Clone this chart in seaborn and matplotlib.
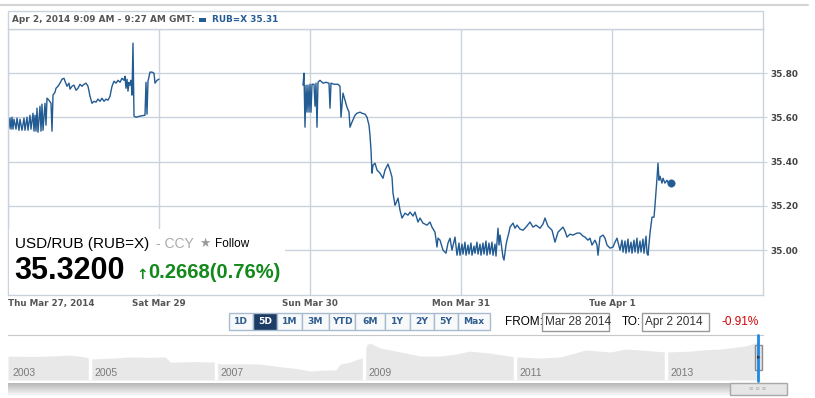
import numpy as np
import pandas as pd
import seaborn as sns
import matplotlib.pyplot as plt
from matplotlib.patches import Rectangle
from matplotlib.lines import Line2D

W, H = 815, 398

# intraday quotes, x = bar index (151 bars per session)
bar_a = [0, 1, 2, 3, 4, 5, 6, 8, 9, 11, 12, 14, 16, 17, 19, 20, 22, 23, 25, 26,
         27, 28, 29, 30, 32, 33, 34, 35, 37, 38, 39, 41, 43, 44, 45, 47, 48, 50, 52, 54,
         56, 57, 59, 61, 62, 64, 66, 68, 70, 72, 74, 76, 78, 80, 82, 84, 86, 88, 90, 92,
         94, 96, 98, 100, 102, 104, 106, 108, 110, 112, 114, 116, 117, 118, 119, 120, 121, 122, 123, 124,
         125, 126, 128, 132, 137, 138, 139, 140, 142, 144, 146, 147, 149, 151]
rate_a = [35.624, 35.551, 35.597, 35.547, 35.601, 35.547, 35.592, 35.547, 35.597, 35.542,
          35.592, 35.542, 35.597, 35.542, 35.601, 35.542, 35.610, 35.547, 35.619, 35.538,
          35.610, 35.538, 35.642, 35.533, 35.651, 35.538, 35.660, 35.542, 35.664, 35.565,
          35.687, 35.678, 35.664, 35.538, 35.701, 35.714, 35.732, 35.741, 35.755, 35.773,
          35.777, 35.764, 35.741, 35.755, 35.728, 35.741, 35.746, 35.723, 35.732, 35.750,
          35.741, 35.750, 35.755, 35.741, 35.696, 35.664, 35.673, 35.669, 35.683, 35.673,
          35.687, 35.673, 35.683, 35.678, 35.696, 35.741, 35.764, 35.755, 35.768, 35.759,
          35.777, 35.768, 35.786, 35.732, 35.773, 35.719, 35.759, 35.746, 35.768, 35.701,
          35.936, 35.606, 35.601, 35.606, 35.610, 35.759, 35.615, 35.764, 35.805, 35.805,
          35.800, 35.755, 35.768, 35.773]

bar_b = [295, 296, 297, 298, 299, 300, 301, 302, 303, 304, 306, 307, 308, 309, 310, 312, 315, 318, 321, 322,
         323, 326, 330, 332, 333, 335, 337, 339, 341, 342, 344, 347, 349, 352, 354, 357, 359, 361, 362, 363,
         364, 365, 367, 369, 372, 375, 377, 380, 382, 384, 385, 387, 388, 390, 392, 394, 397, 400, 402, 405,
         407, 410, 412, 415, 419, 422, 424, 427, 429, 430, 432, 435, 438, 440, 442, 444, 447, 449, 451, 452,
         454, 455, 457, 458, 460, 461, 463, 464, 466, 467, 469, 470, 472, 473, 475, 476, 478, 479, 481, 482,
         484, 485, 487, 488, 490, 491, 492, 494, 495, 496, 498, 499, 501, 502, 505, 507, 509, 512, 515, 518,
         522, 525, 528, 532, 535, 537, 540, 544, 547, 550, 553, 555, 557, 559, 562, 565, 569, 572, 575, 577,
         580, 582, 584, 587, 589, 590, 592, 595, 597, 599, 602, 605, 607, 609, 612, 614, 615, 617, 618, 620,
         621, 623, 624, 626, 627, 629, 630, 632, 633, 635, 636, 638, 639, 640, 642, 644, 646, 647, 649, 650,
         651, 652, 654, 655, 657, 659, 661, 663]
rate_b = [35.746, 35.800, 35.556, 35.746, 35.624, 35.746, 35.624, 35.750, 35.624, 35.750,
          35.750, 35.651, 35.755, 35.556, 35.759, 35.768, 35.755, 35.759, 35.755, 35.642,
          35.755, 35.750, 35.750, 35.741, 35.601, 35.710, 35.678, 35.646, 35.624, 35.556,
          35.579, 35.610, 35.619, 35.624, 35.619, 35.615, 35.601, 35.565, 35.520, 35.452,
          35.348, 35.384, 35.393, 35.362, 35.348, 35.325, 35.362, 35.389, 35.362, 35.330,
          35.258, 35.203, 35.212, 35.235, 35.181, 35.145, 35.167, 35.158, 35.172, 35.154,
          35.172, 35.127, 35.145, 35.122, 35.113, 35.127, 35.104, 35.081, 35.014, 35.054,
          35.045, 35.000, 34.986, 35.032, 35.054, 35.000, 35.059, 34.977, 35.032, 34.977,
          35.027, 34.982, 35.036, 34.977, 35.023, 34.982, 35.032, 34.977, 35.018, 34.986,
          35.036, 34.982, 35.027, 34.977, 35.032, 34.982, 35.041, 34.977, 35.032, 34.982,
          35.036, 34.977, 35.027, 34.973, 35.099, 35.023, 35.068, 35.000, 34.968, 34.955,
          35.023, 35.045, 35.081, 35.104, 35.122, 35.099, 35.113, 35.095, 35.090, 35.104,
          35.127, 35.104, 35.113, 35.099, 35.118, 35.145, 35.108, 35.090, 35.036, 35.081,
          35.095, 35.104, 35.086, 35.059, 35.072, 35.068, 35.077, 35.077, 35.063, 35.059,
          35.045, 35.054, 35.023, 35.045, 35.023, 34.977, 35.059, 35.068, 35.054, 35.023,
          35.009, 35.014, 35.036, 35.054, 35.000, 35.045, 34.991, 35.041, 34.986, 35.050,
          34.991, 35.036, 34.986, 35.045, 34.991, 35.054, 34.986, 35.041, 34.991, 35.050,
          34.986, 35.063, 34.986, 34.977, 35.077, 35.149, 35.149, 35.203, 35.325, 35.393,
          35.316, 35.334, 35.303, 35.325, 35.303, 35.316, 35.298, 35.303]

day_ticks = [0, 151, 302, 453, 604]
day_labels = ["Thu Mar 27, 2014", "Sat Mar 29", "Sun Mar 30", "Mon Mar 31", "Tue Apr 1"]
y_ticks = [35.0, 35.2, 35.4, 35.6, 35.8]

# long range navigator
nav_year = [2004.28, 2004.6, 2004.84, 2005.11, 2005.30, 2005.40, 2005.65, 2005.90, 2006.15, 2006.36,
            2006.43, 2006.75, 2007.03, 2007.10, 2007.35, 2007.62, 2007.9, 2008.15, 2008.28, 2008.45,
            2008.62, 2008.68, 2008.80, 2008.88, 2008.97, 2009.03, 2009.07, 2009.21, 2009.48, 2009.74,
            2010.01, 2010.2, 2010.40, 2010.67, 2011.00, 2011.33, 2011.60, 2011.93, 2012.26, 2012.45,
            2012.66, 2012.99, 2013.32, 2013.5, 2013.72, 2014.05, 2014.21]
nav_rate = [30.2, 30.0, 30.2, 30.6, 29.8, 28.9, 29.3, 29.8, 29.6, 29.8,
            27.5, 27.7, 27.5, 26.6, 26.8, 26.6, 25.4, 24.4, 23.5, 23.9,
            24.0, 26.6, 27.4, 28.4, 29.3, 35.1, 36.0, 33.8, 32.0, 30.2,
            30.2, 31.0, 32.4, 31.5, 29.8, 29.3, 29.8, 32.9, 32.0, 33.3,
            32.9, 32.0, 32.4, 33.0, 33.3, 34.7, 36.4]
nav_breaks = [2005.37, 2007.04, 2009.0, 2011.0, 2013.0]
nav_labels = ["2003", "2005", "2007", "2009", "2011", "2013"]

ranges = ["1D", "5D", "1M", "3M", "YTD", "6M", "1Y", "2Y", "5Y", "Max"]
range_edges = [229, 253, 277, 302, 329, 355, 385, 410, 434, 458, 490]

sns.set_style("white")
plt.rcParams['font.family'] = ['DejaVu Sans']

fig = plt.figure(figsize=(W / 100, H / 100), dpi=100)
fig.patch.set_facecolor("white")

grid_c = "#c8d3dd"
line_c = "#235b93"


def box(x0, y0, x1, y1, **kw):
    fig.add_artist(Rectangle((x0 / W, 1 - y1 / H), (x1 - x0) / W, (y1 - y0) / H,
                             transform=fig.transFigure, **kw))


def label(x, y, s, **kw):
    fig.text(x / W, 1 - y / H, s, va="center", **kw)


# main chart
ax = fig.add_axes([8 / W, 1 - 295 / H, 755 / W, 266 / H])
df = pd.DataFrame({
    "bar": bar_a + bar_b,
    "rate": rate_a + rate_b,
    "block": ["a"] * len(bar_a) + ["b"] * len(bar_b),
})
sns.lineplot(data=df, x="bar", y="rate", units="block", estimator=None,
             color=line_c, lw=1.0, ax=ax)
sns.scatterplot(x=[bar_b[-1]], y=[rate_b[-1]], color=line_c, s=28,
                edgecolor=line_c, ax=ax, zorder=5)
ax.set_xlim(0, 755)
ax.set_ylim(34.797, 36.0)
ax.grid(True, color=grid_c, lw=1)
ax.set_axisbelow(True)
ax.set_xlabel("")
ax.set_ylabel("")
ax.yaxis.tick_right()
ax.set_yticks(y_ticks, [f"{v:.2f}" for v in y_ticks])
ax.set_xticks(day_ticks, day_labels)
ax.tick_params(axis="y", length=3, color=grid_c, pad=2, labelsize=6.4, labelcolor="#444")
ax.tick_params(axis="x", length=0, pad=3, labelsize=6.3, labelcolor="#555")
for t in ax.get_yticklabels() + ax.get_xticklabels():
    t.set_fontweight("bold")
ax.get_xticklabels()[0].set_ha("left")
for s in ax.spines.values():
    s.set_color(grid_c)
    s.set_linewidth(1)

# header strip
fig.add_artist(Line2D([0, 808 / W], [1 - 5 / H, 1 - 5 / H], color="#d4d4d4", lw=1.5,
                      transform=fig.transFigure))
box(8, 11, 763, 29, fc="white", ec=grid_c, lw=1)
label(12, 20, "Apr 2, 2014 9:09 AM - 9:27 AM GMT:", fontsize=6.4, fontweight="bold", color="#555")
box(199, 18, 206, 22, fc=line_c, ec="none")
label(212, 20, "RUB=X 35.31", fontsize=6.4, fontweight="bold", color=line_c)

# quote overlay
box(9, 229, 285, 294, fc="white", ec="none", zorder=5)
label(15, 244, "USD/RUB (RUB=X)", fontsize=11, color="black",
      family="Liberation Sans", zorder=6)
label(156, 244, "- CCY", fontsize=10, color="#aaaaaa", family="Liberation Sans", zorder=6)
label(199, 243, "\u2605", fontsize=9, color="#999999", zorder=6)
label(215, 244, "Follow", fontsize=8.5, color="black", family="Liberation Sans", zorder=6)
label(14, 271, "35.3200", fontsize=22, fontweight="bold", color="black",
      family="Liberation Sans", zorder=6)
label(136, 275, "\u2191", fontsize=10, fontweight="bold", color="#14891b", zorder=6)
label(148, 273, "0.2668(0.76%)", fontsize=14.5, fontweight="bold", color="#14891b",
      family="Liberation Sans", zorder=6)

# range buttons
for i, name in enumerate(ranges):
    x0, x1 = range_edges[i], range_edges[i + 1]
    sel = name == "5D"
    box(x0, 313, x1, 330, fc="#1e3d66" if sel else "#f7f9fb", ec="#a9bccf", lw=1)
    label((x0 + x1) / 2, 322, name, fontsize=6.6, fontweight="bold",
          color="white" if sel else "#2f5d8f", ha="center")

label(505, 322, "FROM:", fontsize=8.5, color="black", family="Liberation Sans")
box(542, 313, 609, 331, fc="white", ec="#999999", lw=1)
label(545, 322, "Mar 28 2014", fontsize=8.5, color="#333", family="Liberation Sans")
label(622, 322, "TO:", fontsize=8.5, color="black", family="Liberation Sans")
box(642, 313, 709, 331, fc="white", ec="#999999", lw=1)
label(645, 322, "Apr 2 2014", fontsize=8.5, color="#333", family="Liberation Sans")
label(721, 322, "-0.91%", fontsize=8.5, color="#d40000", family="Liberation Sans")

# navigator
nax = fig.add_axes([8 / W, 1 - 380 / H, 755 / W, 45 / H])
nax.fill_between(nav_year, nav_rate, 19.5, color="#e8e8e8", lw=0)
nax.set_xlim(2004.28, 2014.28)
nax.set_ylim(19.5, 39.6)
for b in nav_breaks:
    nax.axvline(b, color="white", lw=2.5)
for x, lab in zip([2004.28] + nav_breaks, nav_labels):
    nax.annotate(lab, (x, 0), xycoords=("data", "axes fraction"), xytext=(3, 5),
                 textcoords="offset points", fontsize=7.5, color="#7a7a7a",
                 family="Liberation Sans", va="center")
nax.set_xticks([])
nax.set_yticks([])
for k, s in nax.spines.items():
    s.set_visible(k == "top")
nax.spines["top"].set_color("#c8c8c8")

# scrollbar
sax = fig.add_axes([8 / W, 1 - 396 / H, 722 / W, 13 / H])
sax.imshow(np.linspace(0.72, 0.98, 20).reshape(-1, 1), aspect="auto", cmap="gray",
           vmin=0, vmax=1, extent=[0, 1, 0, 1])
sax.axis("off")
box(730, 383, 787, 395, fc="#e6e6e6", ec="#a8a8a8", lw=1)
label(758, 389, "\u2261 \u2261 \u2261", fontsize=4, color="#b0b0b0", ha="center")

fig.add_artist(Line2D([758 / W, 758 / W], [1 - 335 / H, 1 - 381 / H], color="#1e88e5", lw=2,
                      transform=fig.transFigure))
box(755, 345, 762, 370, fc="#e2e2e2", ec="#8c8c8c", lw=1)
label(758.5, 357, "\u25b8", fontsize=5, color="#333", ha="center")

fig.savefig("out.png", dpi=100)
